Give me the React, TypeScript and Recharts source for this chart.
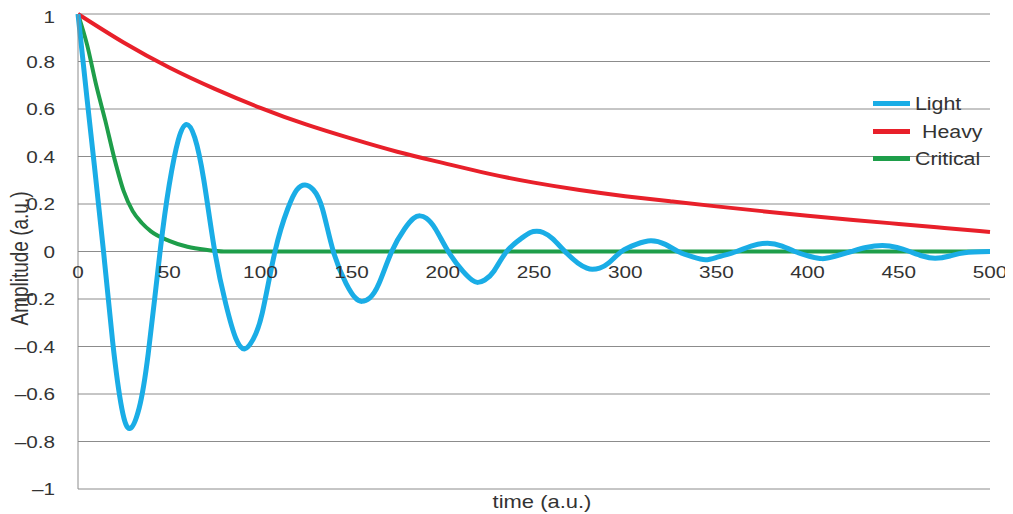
import { LineChart, Line, XAxis, YAxis, CartesianGrid, ReferenceDot } from 'recharts';

const lightTime = [0, 5, 9, 14, 19, 24, 28.5, 33.5, 38.5, 45, 50, 55, 59.5, 64, 69, 75, 81, 86.5, 91.5, 96, 101, 108, 115, 120, 124.5, 129, 134, 140, 147, 152, 155.7, 160, 165, 172, 179, 184, 187.5, 191, 196, 203, 211, 216, 219.3, 223, 228, 235, 243, 248, 251.6, 255, 260, 267, 274, 279, 282, 286, 291, 298, 306, 314, 322, 329, 337, 344, 351, 361, 369, 378, 386, 393, 401, 408, 415, 424, 432, 441, 449, 456, 463, 470, 478, 486, 500];
const lightAmp = [1, 0.64, 0.36, 0, -0.38, -0.66, -0.745, -0.66, -0.43, 0, 0.28, 0.47, 0.535, 0.48, 0.3, 0, -0.22, -0.365, -0.41, -0.37, -0.26, 0, 0.18, 0.26, 0.28, 0.26, 0.18, 0, -0.135, -0.195, -0.21, -0.195, -0.135, 0, 0.095, 0.14, 0.15, 0.14, 0.095, 0, -0.083, -0.12, -0.13, -0.12, -0.083, 0, 0.055, 0.08, 0.085, 0.08, 0.055, 0, -0.048, -0.07, -0.075, -0.07, -0.048, 0, 0.03, 0.045, 0.03, 0, -0.023, -0.035, -0.023, 0, 0.023, 0.035, 0.023, 0, -0.02, -0.03, -0.02, 0, 0.017, 0.025, 0.017, 0, -0.019, -0.028, -0.019, -0.005, 0];

const heavyTime = [0, 25, 50, 75, 100, 125, 150, 175, 200, 225, 250, 275, 300, 325, 350, 375, 400, 425, 450, 475, 500];
const heavyAmp = [1, 0.88, 0.775, 0.685, 0.605, 0.535, 0.475, 0.42, 0.373, 0.328, 0.29, 0.259, 0.233, 0.211, 0.19, 0.17, 0.151, 0.133, 0.116, 0.099, 0.082];

const criticalTime = [0, 5, 10, 15, 20, 25, 30, 35, 40, 50, 60, 70, 80, 100, 150, 200, 250, 300, 350, 400, 450, 500];
const criticalAmp = [1, 0.87, 0.7, 0.55, 0.39, 0.255, 0.17, 0.12, 0.085, 0.045, 0.02, 0.007, 0, 0, 0, 0, 0, 0, 0, 0, 0, 0];

const xTicks = [0, 50, 100, 150, 200, 250, 300, 350, 400, 450, 500];
const yTicks = [-1, -0.8, -0.6, -0.4, -0.2, 0, 0.2, 0.4, 0.6, 0.8, 1];

const seriesNames = ['Light', 'Heavy', 'Critical'];
const seriesColors = ['#1aade6', '#e8202a', '#1e9e4a'];

const zip = (ts: number[], vs: number[]) => ts.map((t, i) => ({ t, v: vs[i] }));
const lightData = zip(lightTime, lightAmp);
const heavyData = zip(heavyTime, heavyAmp);
const criticalData = zip(criticalTime, criticalAmp);

const font = '"Liberation Sans", Arial, sans-serif';
const STRETCH = 1.22;
const fmt = (v: number) => String(v).replace('-', '\u2013');

// the source figure is stretched sideways, so the text is too
function WideText({ x, y, text, anchor = 'middle', size = 17, dy = 0, rotate = false }: any) {
  const tf = rotate
    ? `translate(${x},${y}) rotate(-90) scale(1,${STRETCH})`
    : `translate(${x},${y}) scale(${STRETCH},1)`;
  return (
    <g transform={tf}>
      <text x={0} y={0} dy={dy} textAnchor={anchor} fill="#333" fontSize={size} fontFamily={font}>
        {text}
      </text>
    </g>
  );
}

const YTick = (p: any) => <WideText x={p.x - 15} y={p.y} dy="0.36em" anchor="end" text={fmt(p.payload.value)} />;

function LegendBox() {
  const rows = [
    { top: 86, textLeft: 42 },
    { top: 114, textLeft: 49 },
    { top: 141, textLeft: 42 },
  ];
  return (
    <div style={{ position: 'absolute', left: 865, top: 0, fontFamily: font, fontSize: 17.5, color: '#333' }}>
      {rows.map((r, i) => (
        <div key={seriesNames[i]} style={{ position: 'absolute', top: r.top, left: 0, width: 140, height: 20 }}>
          <div style={{ position: 'absolute', left: 0, top: 7, width: 37, height: 5, background: seriesColors[i] }} />
          <span
            style={{ position: 'absolute', left: r.textLeft, top: 0, lineHeight: '20px', transform: `scaleX(${STRETCH})`, transformOrigin: 'left center', whiteSpace: 'nowrap' }}
          >
            {seriesNames[i]}
          </span>
        </div>
      ))}
    </div>
  );
}

export default function App() {
  return (
    <div style={{ position: 'relative', width: 1000, height: 506 }}>
      <LineChart width={1000} height={506} margin={{ top: 6, right: 18, left: 10, bottom: 0 }}>
        <CartesianGrid vertical={false} stroke="#8c8c8c" strokeWidth={1} />
        <XAxis
          type="number"
          dataKey="t"
          domain={[0, 500]}
          ticks={xTicks}
          tick={false}
          tickLine={false}
          axisLine={false}
          height={25}
          label={{
            content: (p: any) => (
              <WideText x={p.viewBox.x + p.viewBox.width / 2 + 8} y={p.viewBox.y + 19} size={18} text="time (a.u.)" />
            ),
          }}
        />
        <YAxis
          type="number"
          domain={[-1, 1]}
          ticks={yTicks}
          tick={YTick}
          tickLine={false}
          axisLine={{ stroke: '#8c8c8c' }}
          width={60}
          label={{
            content: (p: any) => (
              <WideText x={p.viewBox.x + 2} y={p.viewBox.y + p.viewBox.height / 2 + 7} dy="0.35em" size={19} rotate text="Amplitude (a.u.)" />
            ),
          }}
        />
        {xTicks.map((t) => (
          <ReferenceDot
            key={t}
            x={t}
            y={0}
            r={0}
            fill="none"
            stroke="none"
            label={{
              content: (p: any) => <WideText x={p.viewBox.x + p.viewBox.width / 2} y={p.viewBox.y + 26} text={String(t)} />,
            }}
          />
        ))}
        <Line data={criticalData} dataKey="v" type="monotone" stroke={seriesColors[2]} strokeWidth={4} dot={false} isAnimationActive={false} />
        <Line data={heavyData} dataKey="v" type="natural" stroke={seriesColors[1]} strokeWidth={4} dot={false} isAnimationActive={false} />
        <Line data={lightData} dataKey="v" type="natural" stroke={seriesColors[0]} strokeWidth={5} dot={false} isAnimationActive={false} />
      </LineChart>
      <LegendBox />
    </div>
  );
}
